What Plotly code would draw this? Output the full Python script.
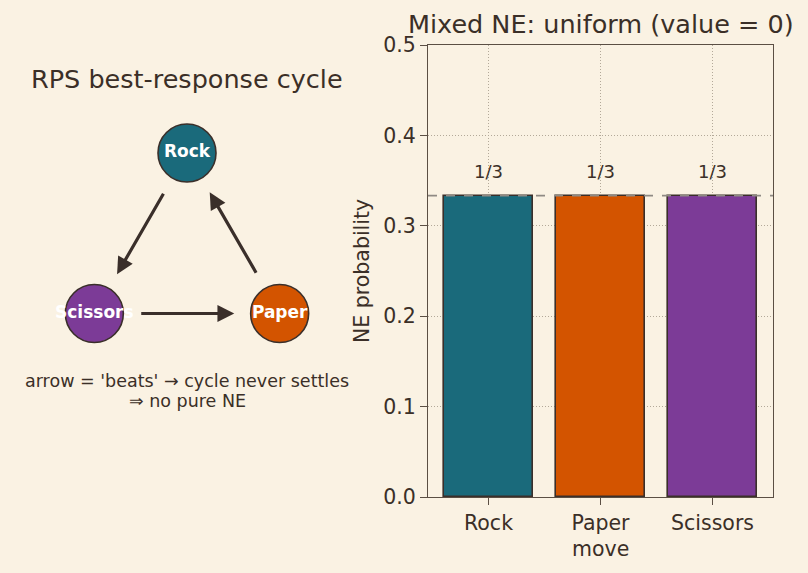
import plotly.graph_objects as go

# ---------------- data ----------------
moves = ["Rock", "Paper", "Scissors"]
ne_prob = [1/3, 1/3, 1/3]
bar_labels = ["1/3", "1/3", "1/3"]
y_ticks = [0.0, 0.1, 0.2, 0.3, 0.4, 0.5]

# best-response cycle diagram (equilateral triangle, unit circumradius)
node_names = ["Rock", "Paper", "Scissors"]
node_x = [0.0, 0.866, -0.866]
node_y = [1.0, -0.5, -0.5]
# "beats" edges: (from, to)
edges = [("Rock", "Scissors"), ("Scissors", "Paper"), ("Paper", "Rock")]

# ---------------- style ----------------
BG = "#FAF2E3"
TXT = "#3b2f27"
SPINE = "#5b4f44"
GRID = "#b3a999"
COLORS = ["#1a6a7b", "#d35400", "#7c3b97"]
EDGE = "#3a2f2a"
FONT = "DejaVu Sans"
W, H = 808, 573

fig = go.Figure()

# ---------------- right panel: bars ----------------
fig.add_trace(go.Bar(
    x=moves, y=ne_prob, width=0.8,
    marker=dict(color=COLORS, line=dict(color=EDGE, width=1.6)),
    opacity=1.0, xaxis="x", yaxis="y", showlegend=False,
))

for m, v, lab in zip(moves, ne_prob, bar_labels):
    fig.add_annotation(x=m, y=v + 0.027, xref="x", yref="y", text=lab,
                       xanchor="center", yanchor="middle",
                       showarrow=False, font=dict(family=FONT, size=18, color=TXT))

fig.add_shape(type="line", xref="x domain", yref="y", x0=0, x1=1,
              y0=ne_prob[0], y1=ne_prob[0],
              line=dict(color="#8f8a84", width=1.6, dash="dash"), layer="above")

# ---------------- left panel: cycle diagram ----------------
fig.add_trace(go.Scatter(
    x=node_x, y=node_y, mode="markers+text", text=node_names,
    textposition="middle center",
    textfont=dict(family=FONT, size=17, color="white", weight="bold"),
    marker=dict(size=58, color=COLORS, line=dict(color=EDGE, width=1.6)),
    xaxis="x2", yaxis="y2", showlegend=False, hoverinfo="skip", cliponaxis=False,
))

pos = {n: (x, y) for n, x, y in zip(node_names, node_x, node_y)}
for a, b in edges:
    (x0, y0), (x1, y1) = pos[a], pos[b]
    t0, t1 = 0.245, 0.755
    sx, sy = x0 + (x1 - x0) * t0, y0 + (y1 - y0) * t0
    ex, ey = x0 + (x1 - x0) * t1, y0 + (y1 - y0) * t1
    fig.add_annotation(x=ex, y=ey, ax=sx, ay=sy, xref="x2", yref="y2",
                       axref="x2", ayref="y2", showarrow=True, text="",
                       arrowhead=2, arrowsize=1.05, arrowwidth=3.2, arrowcolor=EDGE)


def label(x_px, y_px, text, size, angle=0):
    fig.add_annotation(x=x_px / W, y=1 - y_px / H, xref="paper", yref="paper",
                       xanchor="center", yanchor="middle", text=text,
                       showarrow=False, textangle=angle,
                       font=dict(family=FONT, size=size, color=TXT))


label(187, 79, "RPS best-response cycle", 25.5)
label(187, 381, "arrow = 'beats' → cycle never settles", 17.5)
label(187, 401, "⇒ no pure NE", 17.5)
label(600.5, 24, "Mixed NE: uniform (value = 0)", 25.5)
label(362, 271, "NE probability", 20.5, -90)
label(600.5, 549, "move", 20.5)

axis_common = dict(showline=True, mirror=True, linecolor=SPINE, linewidth=1.3,
                   ticks="outside", ticklen=7, tickwidth=1.3, tickcolor=SPINE,
                   showgrid=True, gridcolor=GRID, gridwidth=0.8, griddash="1px,2px",
                   zeroline=False, automargin=False,
                   tickfont=dict(family=FONT, size=20.5, color=TXT))

fig.update_layout(
    width=W, height=H,
    margin=dict(l=0, r=0, t=0, b=0, pad=0, autoexpand=False),
    paper_bgcolor=BG, plot_bgcolor=BG,
    bargap=0,
    xaxis=dict(domain=[428 / W, 773 / W], anchor="y", type="category",
               range=[-0.54, 2.54], **axis_common),
    yaxis=dict(domain=[1 - 497 / H, 1 - 45 / H], anchor="x", range=[0, 0.5],
               tickvals=y_ticks, tickformat=".1f", **axis_common),
    xaxis2=dict(domain=[0, 374 / W], anchor="y2", range=[-187 / 107, 187 / 107],
                visible=False, automargin=False),
    yaxis2=dict(domain=[0, 1], anchor="x2", range=[-313 / 107, 260 / 107],
                visible=False, automargin=False),
)

fig.write_html("out.html")
